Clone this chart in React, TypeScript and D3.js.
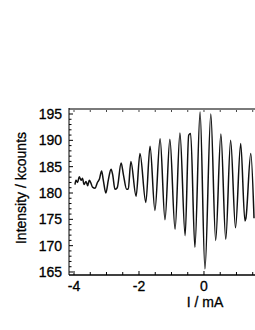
import * as d3 from "d3"
import { useEffect, useRef } from "react"

// extrema (current in mA, intensity in kcounts)
const current = [
  -3.97, -3.94, -3.89, -3.84, -3.78, -3.74, -3.69, -3.63, -3.58, -3.53, -3.48,
  -3.43, -3.35, -3.28, -3.22, -3.15, -3.1, -3.02, -2.94, -2.86, -2.81, -2.74,
  -2.67, -2.55, -2.48, -2.38, -2.33, -2.25, -2.09, -1.97, -1.79, -1.66, -1.51,
  -1.35, -1.2, -1.05, -0.89, -0.74, -0.58, -0.47, -0.41, -0.28, -0.12, 0.03,
  0.21, 0.36, 0.52, 0.67, 0.82, 0.97, 1.13, 1.26, 1.29, 1.44, 1.54,
]
const intensity = [
  181.6, 182.4, 182.0, 183.1, 182.4, 182.8, 181.6, 182.2, 181.4, 182.4, 181.9,
  181.1, 180.9, 182.0, 182.6, 184.2, 182.5, 180.0, 182.6, 184.5, 183.5, 180.7,
  181.0, 185.7, 183.5, 180.7, 180.8, 186.0, 179.4, 187.5, 178.2, 188.9, 176.7,
  190.3, 174.9, 190.2, 173.1, 191.4, 171.9, 191.0, 191.3, 169.7, 195.4, 165.6,
  195.0, 171.0, 191.2, 171.2, 190.0, 173.4, 189.4, 174.7, 175.2, 187.5, 175.2,
]
const xTicks = [-4, -2, 0]
const yTicks = [165, 170, 175, 180, 185, 190, 195]

const WIDTH = 255
const HEIGHT = 330
const MARGIN = { top: 109, right: 0, bottom: 55, left: 69 }
const FONT = "'Liberation Sans', Arial, sans-serif"

const App = () => {
  const svgRef = useRef<SVGSVGElement>(null)

  useEffect(() => {
    if (!svgRef.current) return
    d3.select(svgRef.current).selectAll("*").remove()

    const svg = d3.select(svgRef.current)
    const x0 = MARGIN.left
    const x1 = WIDTH - MARGIN.right
    const y0 = MARGIN.top
    const y1 = HEIGHT - MARGIN.bottom

    const xScale = d3.scaleLinear().domain([-4.154, 1.57]).range([x0, x1])
    const yScale = d3.scaleLinear().domain([164.43, 195.95]).range([y1, y0])

    const data = current.map((c, i) => ({ c, v: intensity[i] }))

    // minor ticks
    const xMinor = d3.range(-4, 1.51, 0.5)
    const yMinor = d3.range(165, 196, 1)

    svg
      .selectAll("line.xminor-b")
      .data(xMinor)
      .join("line")
      .attr("x1", (d) => xScale(d))
      .attr("x2", (d) => xScale(d))
      .attr("y1", y1)
      .attr("y2", (d) => (xTicks.includes(d) ? y1 - 4 : y1 - 3))
      .attr("stroke", "#000")
      .attr("stroke-width", 1)

    svg
      .selectAll("line.xminor-t")
      .data(xMinor)
      .join("line")
      .attr("x1", (d) => xScale(d))
      .attr("x2", (d) => xScale(d))
      .attr("y1", y0)
      .attr("y2", y0 + 3)
      .attr("stroke", "#444")
      .attr("stroke-width", 1)

    svg
      .selectAll("line.yminor")
      .data(yMinor)
      .join("line")
      .attr("x1", x0)
      .attr("x2", (d) => (yTicks.includes(d) ? x0 + 4 : x0 + 2.5))
      .attr("y1", (d) => yScale(d))
      .attr("y2", (d) => yScale(d))
      .attr("stroke", "#000")
      .attr("stroke-width", 1)

    // frame
    svg
      .append("line")
      .attr("x1", x0)
      .attr("x2", x1)
      .attr("y1", y0)
      .attr("y2", y0)
      .attr("stroke", "#7a7a7a")
      .attr("stroke-width", 2)
    svg
      .append("line")
      .attr("x1", x0)
      .attr("x2", x0)
      .attr("y1", y0 - 1)
      .attr("y2", y1)
      .attr("stroke", "#000")
      .attr("stroke-width", 1)
    svg
      .append("line")
      .attr("x1", x0)
      .attr("x2", x1)
      .attr("y1", y1)
      .attr("y2", y1)
      .attr("stroke", "#000")
      .attr("stroke-width", 1.5)

    // trace
    svg
      .append("path")
      .datum(data)
      .attr("fill", "none")
      .attr("stroke", "#111")
      .attr("stroke-width", 1.5)
      .attr(
        "d",
        d3
          .line<{ c: number; v: number }>()
          .curve(d3.curveMonotoneX)
          .x((d) => xScale(d.c))
          .y((d) => yScale(d.v)),
      )

    const label = (sel: d3.Selection<any, any, any, any>) =>
      sel
        .attr("font-family", FONT)
        .attr("font-size", "14px")
        .attr("fill", "#000")
        .attr("stroke", "#000")
        .attr("stroke-width", 0.3)

    // tick labels
    svg
      .selectAll("text.ylab")
      .data(yTicks)
      .join("text")
      .attr("x", 62)
      .attr("y", (d) => yScale(d))
      .attr("dy", "0.36em")
      .attr("text-anchor", "end")
      .call(label)
      .text((d) => d)

    svg
      .selectAll("text.xlab")
      .data(xTicks)
      .join("text")
      .attr("x", (d) => xScale(d))
      .attr("y", 291)
      .attr("text-anchor", "middle")
      .call(label)
      .text((d) => (d < 0 ? `-${-d}` : `${d}`))

    // axis titles
    svg
      .append("text")
      .attr("x", 205)
      .attr("y", 307)
      .attr("text-anchor", "middle")
      .call(label)
      .text("I / mA")

    svg
      .append("text")
      .attr("transform", "translate(26, 188) rotate(-90)")
      .attr("text-anchor", "middle")
      .call(label)
      .text("Intensity / kcounts")
  }, [])

  return (
    <svg
      ref={svgRef}
      width={WIDTH}
      height={HEIGHT}
      style={{ position: "absolute", left: 0, top: 0, background: "#fff" }}
    />
  )
}

export default App
